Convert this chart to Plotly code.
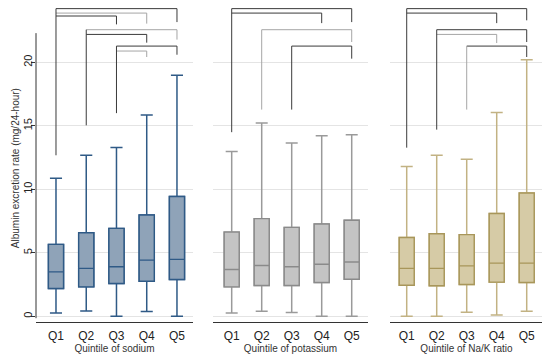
import plotly.graph_objects as go

categories = ["Q1", "Q2", "Q3", "Q4", "Q5"]
panel_titles = ["Quintile of sodium", "Quintile of potassium", "Quintile of Na/K ratio"]

# Box statistics (albumin excretion rate, mg/24-hour)
sodium_lower = [0.26, 0.42, 0.0, 0.37, 0.0]
sodium_q1 = [2.19, 2.32, 2.58, 2.76, 2.90]
sodium_median = [3.50, 3.77, 3.90, 4.42, 4.48]
sodium_q3 = [5.66, 6.58, 6.92, 7.98, 9.43]
sodium_upper = [10.88, 12.69, 13.30, 15.85, 18.98]

potassium_lower = [0.26, 0.39, 0.29, 0.0, 0.0]
potassium_q1 = [2.32, 2.42, 2.42, 2.66, 2.92]
potassium_median = [3.69, 4.00, 3.90, 4.10, 4.27]
potassium_q3 = [6.63, 7.69, 7.00, 7.27, 7.56]
potassium_upper = [12.98, 15.22, 13.64, 14.22, 14.30]

ratio_lower = [0.0, 0.0, 0.32, 0.10, 0.39]
ratio_q1 = [2.45, 2.40, 2.50, 2.69, 2.66]
ratio_median = [3.77, 3.77, 3.97, 4.19, 4.19]
ratio_q3 = [6.20, 6.50, 6.43, 8.09, 9.71]
ratio_upper = [11.80, 12.68, 12.36, 16.04, 20.20]

y_ticks = [0, 5, 10, 15, 20]

# Significance brackets: (from, to, level, tip, strong)
sodium_brackets = [(1, 5, 24.23, 23.17, True), (1, 4, 23.88, 23.05, False), (1, 3, 23.65, 22.99, True),
                   (2, 5, 22.57, 21.79, False), (2, 4, 22.20, 21.55, True),
                   (3, 5, 21.28, 20.60, True), (3, 4, 20.89, 20.42, False)]
sodium_stems = {1: (12.68, True), 2: (15.04, True), 3: (16.00, True)}
potassium_brackets = [(1, 5, 24.23, 23.17, True), (1, 4, 23.88, 23.09, True),
                      (2, 5, 22.57, 21.60, False), (3, 5, 21.28, 20.29, True)]
potassium_stems = {1: (14.50, True), 2: (16.28, False), 3: (16.28, True)}
ratio_brackets = [(1, 5, 24.23, 23.31, True), (1, 4, 23.88, 23.09, True),
                  (2, 5, 22.57, 21.60, True), (2, 4, 22.20, 21.52, False),
                  (3, 5, 21.28, 20.42, True)]
ratio_stems = {1: (13.28, True), 2: (14.70, True), 3: (16.28, False)}

panels = [
    dict(lower=sodium_lower, q1=sodium_q1, med=sodium_median, q3=sodium_q3, upper=sodium_upper,
         brackets=sodium_brackets, stems=sodium_stems,
         fill="#8fa3b8", line="#2f5a86", whisk="#2f5a86"),
    dict(lower=potassium_lower, q1=potassium_q1, med=potassium_median, q3=potassium_q3, upper=potassium_upper,
         brackets=potassium_brackets, stems=potassium_stems,
         fill="#c4c4c4", line="#8a8a8a", whisk="#9a9a9a"),
    dict(lower=ratio_lower, q1=ratio_q1, med=ratio_median, q3=ratio_q3, upper=ratio_upper,
         brackets=ratio_brackets, stems=ratio_stems,
         fill="#d6cba6", line="#a8965a", whisk="#c2b283"),
]

# The page body has an 8px default margin: lay out in screen pixels and shift.
OFF = 8
W, H = 550 - OFF, 357 - OFF
PLOT_L, PLOT_R = 36 - OFF, 543 - OFF       # plot area (figure pixels)
PLOT_T, PLOT_B = 8 - OFF, 322 - OFF
ML, MR, MT, MB = PLOT_L, W - PLOT_R, PLOT_T, H - PLOT_B
PW = PLOT_R - PLOT_L
px_edges = [(36, 193), (213, 368), (390, 543)]   # screen pixels
x_ranges = [(0.339, 5.53), (0.377, 5.543), (0.443, 5.543)]
y_range = [-0.45, 24.28]

DARK = "#3a3a3a"
LIGHT = "#a5a5a5"
FONT = "Liberation Sans, Arial, sans-serif"

fig = go.Figure()
shapes = []
layout = {}
positions = list(range(1, len(categories) + 1))

for i, p in enumerate(panels):
    n = "" if i == 0 else str(i + 1)
    xa, ya = "x" + n, "y" + n
    fig.add_trace(go.Box(
        x=positions, q1=p["q1"], median=p["med"], q3=p["q3"],
        lowerfence=p["lower"], upperfence=p["upper"],
        width=0.5, whiskerwidth=0.8, fillcolor=p["fill"],
        line=dict(color=p["whisk"], width=1.5),
        boxpoints=False, hoverinfo="skip", showlegend=False,
        xaxis=xa, yaxis=ya,
    ))
    fig.add_trace(go.Box(
        x=positions, q1=p["q1"], median=p["med"], q3=p["q3"],
        lowerfence=p["q1"], upperfence=p["q3"],
        width=0.5, whiskerwidth=0.0, fillcolor=p["fill"],
        line=dict(color=p["line"], width=1.4),
        boxpoints=False, hoverinfo="skip", showlegend=False,
        xaxis=xa, yaxis=ya,
    ))
    a, b = px_edges[i]
    layout["xaxis" + n] = dict(
        domain=[(a - OFF - PLOT_L) / PW, (b - OFF - PLOT_L) / PW], range=list(x_ranges[i]), anchor=ya,
        tickvals=positions, ticktext=categories, ticks="", showgrid=False, zeroline=False,
        showline=True, linecolor="#333333", linewidth=1, ticklabelstandoff=3,
        tickfont=dict(family=FONT, size=12, color="#222222"),
        title=dict(text=panel_titles[i], font=dict(family=FONT, size=10, color="#333333"), standoff=0),
    )
    yax = dict(
        range=y_range, anchor=xa, tickvals=y_ticks, showgrid=True, gridcolor="#e4e4e4",
        gridwidth=1, zeroline=False, showline=False,
    )
    if i == 0:
        yax.update(ticks="outside", ticklen=4, tickcolor="#333333", tickangle=-90,
                   ticklabelstandoff=-5,
                   tickfont=dict(family=FONT, size=11, color="#222222"))
    else:
        yax.update(matches="y", showticklabels=False, ticks="")
    layout["yaxis" + n] = yax

    for (f, t, lvl, tip, strong) in p["brackets"]:
        col = DARK if strong else LIGHT
        shapes.append(dict(type="line", xref=xa, yref=ya, x0=f, x1=t, y0=lvl, y1=lvl,
                           line=dict(color=col, width=1)))
        shapes.append(dict(type="line", xref=xa, yref=ya, x0=t, x1=t, y0=lvl, y1=tip,
                           line=dict(color=col, width=1)))
    for f, (bottom, strong) in p["stems"].items():
        top = max(lvl for (ff, _, lvl, _, _) in p["brackets"] if ff == f)
        shapes.append(dict(type="line", xref=xa, yref=ya, x0=f, x1=f, y0=top, y1=bottom,
                           line=dict(color=DARK if strong else LIGHT, width=1)))

shapes.append(dict(type="line", xref="x domain", yref="y", x0=0, x1=0, y0=-0.15, y1=22.3,
                   line=dict(color="#333333", width=1)))

fig.update_layout(
    width=W, height=H, margin=dict(l=ML, r=MR, t=MT, b=MB, autoexpand=False),
    paper_bgcolor="white", plot_bgcolor="white",
    shapes=shapes, **layout,
    annotations=[dict(text="Albumin excretion rate (mg/24-hour)", xref="paper", yref="paper",
                      x=(15 - OFF - PLOT_L) / PW, y=0.49, textangle=-90, showarrow=False,
                      xanchor="center", yanchor="middle",
                      font=dict(family=FONT, size=10, color="#333333"))],
)

fig.write_html("out.html")
